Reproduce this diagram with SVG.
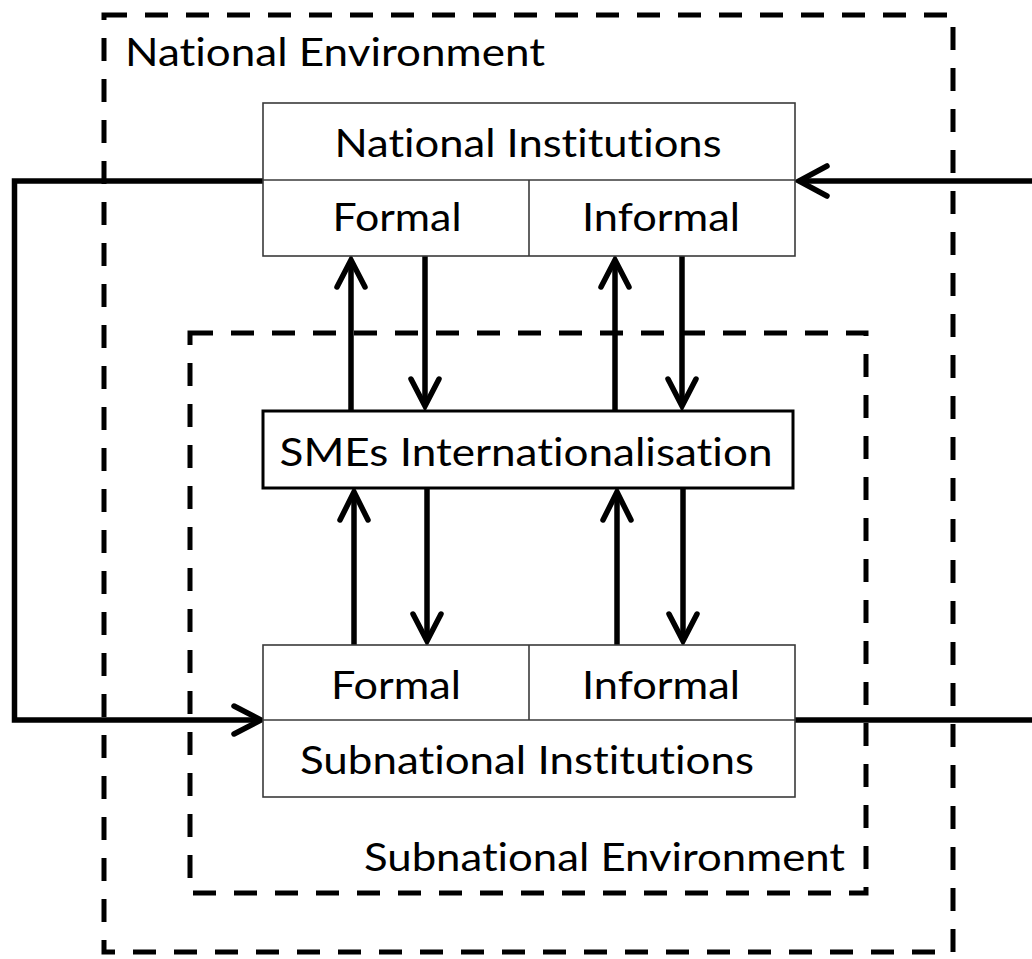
<svg xmlns="http://www.w3.org/2000/svg" width="1032" height="959" viewBox="0 0 1032 959">
  <style>
    .env { fill: none; stroke: #000; stroke-width: 5; stroke-dasharray: 23 18; }
    .inst { fill: #fff; stroke: #3a3a3a; stroke-width: 1.6; }
    .core { fill: #fff; stroke: #000; stroke-width: 3; }
    .link { fill: none; stroke: #000; stroke-width: 5.5; }
    .head { fill: none; stroke: #000; stroke-width: 5.5; stroke-linecap: round; stroke-linejoin: miter; }
    text { font-family: Lato, "Open Sans", "Liberation Sans", sans-serif; font-size: 38px; fill: #000; font-variant-ligatures: none; font-feature-settings: "liga" 0, "clig" 0; }
    .mid { text-anchor: middle; }
  </style>

  <rect width="1032" height="959" fill="#fff"/>

  <!-- environments -->
  <g id="national-environment">
    <rect class="env" x="104" y="15" width="849" height="937"/>
    <text x="125" y="66" textLength="420" lengthAdjust="spacingAndGlyphs">National Environment</text>
  </g>
  <g id="subnational-environment">
    <rect class="env" x="190" y="333" width="676" height="560"/>
    <text x="364" y="871" textLength="481" lengthAdjust="spacingAndGlyphs">Subnational Environment</text>
  </g>

  <!-- connectors -->
  <g id="connectors">
    <!-- feedback loop left: national -> subnational -->
    <polyline class="link" points="263,181 14.5,181 14.5,720 259,720"/>
    <polyline class="head" points="234,706 261,720 234,734"/>
    <!-- feedback loop right: subnational -> national -->
    <line class="link" x1="795" y1="720" x2="1032" y2="720"/>
    <line class="link" x1="1032" y1="181" x2="801" y2="181"/>
    <polyline class="head" points="827,166 799,181 827,196"/>

    <!-- SMEs <-> national institutions -->
    <line class="link" x1="351" y1="411" x2="351" y2="262"/>
    <polyline class="head" points="337,287 351,260 365,287"/>
    <line class="link" x1="425" y1="256" x2="425" y2="404"/>
    <polyline class="head" points="411,379 425,406 439,379"/>
    <line class="link" x1="615" y1="411" x2="615" y2="262"/>
    <polyline class="head" points="601,287 615,260 629,287"/>
    <line class="link" x1="682" y1="256" x2="682" y2="404"/>
    <polyline class="head" points="668,379 682,406 696,379"/>

    <!-- SMEs <-> subnational institutions -->
    <line class="link" x1="354" y1="645" x2="354" y2="494"/>
    <polyline class="head" points="340,520 354,492 368,520"/>
    <line class="link" x1="427" y1="488" x2="427" y2="638"/>
    <polyline class="head" points="413,614 427,641 441,614"/>
    <line class="link" x1="617" y1="645" x2="617" y2="494"/>
    <polyline class="head" points="603,520 617,492 631,520"/>
    <line class="link" x1="683" y1="488" x2="683" y2="638"/>
    <polyline class="head" points="669,614 683,641 697,614"/>
  </g>

  <!-- nodes -->
  <g id="national-institutions">
    <rect class="inst" x="263" y="103" width="532" height="153"/>
    <line class="inst" x1="263" y1="180" x2="795" y2="180"/>
    <line class="inst" x1="529" y1="180" x2="529" y2="256"/>
    <text class="mid" x="528" y="157" textLength="387" lengthAdjust="spacingAndGlyphs">National Institutions</text>
    <text class="mid" x="397" y="231" textLength="129" lengthAdjust="spacingAndGlyphs">Formal</text>
    <text class="mid" x="661" y="231" textLength="158" lengthAdjust="spacingAndGlyphs">Informal</text>
  </g>

  <g id="smes-internationalisation">
    <rect class="core" x="263" y="411" width="530" height="77"/>
    <text class="mid" x="526" y="466" textLength="493" lengthAdjust="spacingAndGlyphs">SMEs Internationalisation</text>
  </g>

  <g id="subnational-institutions">
    <rect class="inst" x="263" y="645" width="532" height="152"/>
    <line class="inst" x1="263" y1="720" x2="795" y2="720"/>
    <line class="inst" x1="529" y1="645" x2="529" y2="720"/>
    <text class="mid" x="396" y="699" textLength="130" lengthAdjust="spacingAndGlyphs">Formal</text>
    <text class="mid" x="661" y="699" textLength="158" lengthAdjust="spacingAndGlyphs">Informal</text>
    <text class="mid" x="527" y="774" textLength="454" lengthAdjust="spacingAndGlyphs">Subnational Institutions</text>
  </g>
</svg>
